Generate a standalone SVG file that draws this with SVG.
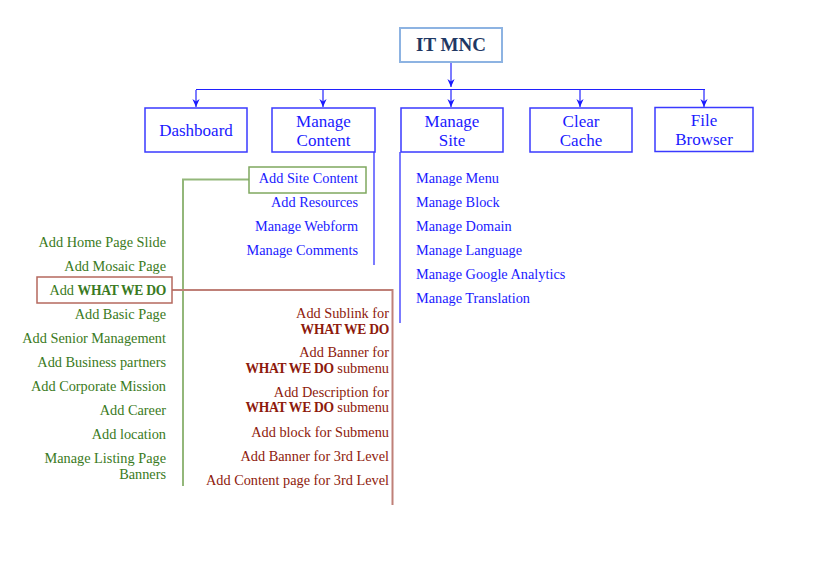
<svg xmlns="http://www.w3.org/2000/svg" width="819" height="565" viewBox="0 0 819 565">
<defs>
<style>
.bx{fill:#fff;stroke:#3a3aff;stroke-width:1.5}
.bt{font-family:"Liberation Serif","DejaVu Serif",serif;font-size:17px;fill:#1a1aff;text-anchor:middle}
.conn{fill:none;stroke:#7b7bff;stroke-width:2}
.hline{fill:none;stroke:#2020ff;stroke-width:1.2}
.t{font-family:"Liberation Serif","DejaVu Serif",serif;font-size:14.3px}
.blue{fill:#1a1aff}
.green{fill:#3a7a22}
.red{fill:#8e1a0c}
.end{text-anchor:end}
.b{font-weight:bold;font-size:13.6px;letter-spacing:-0.3px}
</style>
<marker id="ar" viewBox="0 0 10 10" refX="10" refY="5" markerWidth="8" markerHeight="8" markerUnits="userSpaceOnUse" orient="auto">
<path d="M0,0.5 L10,5 L0,9.5 L3,5 z" fill="#1a1aff"/>
</marker>
</defs>

<g id="connectors">
<line class="conn" x1="451" y1="62" x2="451" y2="87" marker-end="url(#ar)"/>
<line class="hline" x1="196" y1="89.5" x2="705" y2="89.5"/>
<line class="conn" x1="196" y1="90" x2="196" y2="107" marker-end="url(#ar)"/>
<line class="conn" x1="323" y1="90" x2="323" y2="107" marker-end="url(#ar)"/>
<line class="conn" x1="451" y1="90" x2="451" y2="107" marker-end="url(#ar)"/>
<line class="conn" x1="580" y1="90" x2="580" y2="107" marker-end="url(#ar)"/>
<line class="conn" x1="704" y1="90" x2="704" y2="107" marker-end="url(#ar)"/>
<line class="conn" x1="374" y1="152" x2="374" y2="265"/>
<line class="conn" x1="400" y1="152" x2="400" y2="323"/>
<polyline fill="none" stroke="#93b77a" stroke-width="2" points="249,179.5 183,179.5 183,486"/>
<polyline fill="none" stroke="#bf8078" stroke-width="2" points="172,290 392.5,290 392.5,505"/>
</g>

<g id="it-mnc">
<rect x="400" y="28" width="102" height="34" fill="#fff" stroke="#8db3e2" stroke-width="2"/>
<text x="451" y="51" font-family="Liberation Serif,DejaVu Serif,serif" font-size="19" font-weight="bold" fill="#1f3864" text-anchor="middle">IT MNC</text>
</g>

<g id="dashboard">
<rect class="bx" x="145" y="108" width="102" height="44"/>
<text class="bt" x="196" y="136">Dashboard</text>
</g>
<g id="manage-content">
<rect class="bx" x="272" y="108" width="103" height="44"/>
<text class="bt" x="323.5" y="127">Manage</text>
<text class="bt" x="323.5" y="146">Content</text>
</g>
<g id="manage-site">
<rect class="bx" x="401" y="108" width="102" height="44"/>
<text class="bt" x="452" y="127">Manage</text>
<text class="bt" x="452" y="146">Site</text>
</g>
<g id="clear-cache">
<rect class="bx" x="530" y="108" width="102" height="44"/>
<text class="bt" x="581" y="127">Clear</text>
<text class="bt" x="581" y="146">Cache</text>
</g>
<g id="file-browser">
<rect class="bx" x="655" y="107.5" width="98" height="44"/>
<text class="bt" x="704" y="126">File</text>
<text class="bt" x="704" y="145">Browser</text>
</g>

<g id="manage-content-items">
<g id="add-site-content">
<rect x="249" y="167" width="117" height="26" fill="#fff" stroke="#7fa85f" stroke-width="1.5"/>
<text class="t blue end" x="358" y="183">Add Site Content</text>
</g>
<text class="t blue end" x="358" y="207">Add Resources</text>
<text class="t blue end" x="358" y="231">Manage Webform</text>
<text class="t blue end" x="358" y="255">Manage Comments</text>
</g>

<g id="manage-site-items">
<text class="t blue" x="416" y="183">Manage Menu</text>
<text class="t blue" x="416" y="207">Manage Block</text>
<text class="t blue" x="416" y="231">Manage Domain</text>
<text class="t blue" x="416" y="255">Manage Language</text>
<text class="t blue" x="416" y="279">Manage Google Analytics</text>
<text class="t blue" x="416" y="303">Manage Translation</text>
</g>

<g id="site-content-items">
<text class="t green end" x="166" y="247">Add Home Page Slide</text>
<text class="t green end" x="166" y="271">Add Mosaic Page</text>
<g id="add-what-we-do">
<rect x="37" y="277" width="135" height="26" fill="#fff" stroke="#b5685e" stroke-width="1.5"/>
<text class="t green end" x="166" y="295">Add <tspan class="b">WHAT WE DO</tspan></text>
</g>
<text class="t green end" x="166" y="319">Add Basic Page</text>
<text class="t green end" x="166" y="343">Add Senior Management</text>
<text class="t green end" x="166" y="367">Add Business partners</text>
<text class="t green end" x="166" y="391">Add Corporate Mission</text>
<text class="t green end" x="166" y="415">Add Career</text>
<text class="t green end" x="166" y="439">Add location</text>
<text class="t green end" x="166" y="463">Manage Listing Page</text>
<text class="t green end" x="166" y="479">Banners</text>
</g>

<g id="what-we-do-items">
<text class="t red end" x="389" y="318">Add Sublink for</text>
<text class="t red end" x="389" y="334"><tspan class="b">WHAT WE DO</tspan></text>
<text class="t red end" x="389" y="357">Add Banner for</text>
<text class="t red end" x="389" y="373"><tspan class="b">WHAT WE DO</tspan> submenu</text>
<text class="t red end" x="389" y="397">Add Description for</text>
<text class="t red end" x="389" y="412"><tspan class="b">WHAT WE DO</tspan> submenu</text>
<text class="t red end" x="389" y="437">Add block for Submenu</text>
<text class="t red end" x="389" y="461">Add Banner for 3rd Level</text>
<text class="t red end" x="389" y="485">Add Content page for 3rd Level</text>
</g>
</svg>
